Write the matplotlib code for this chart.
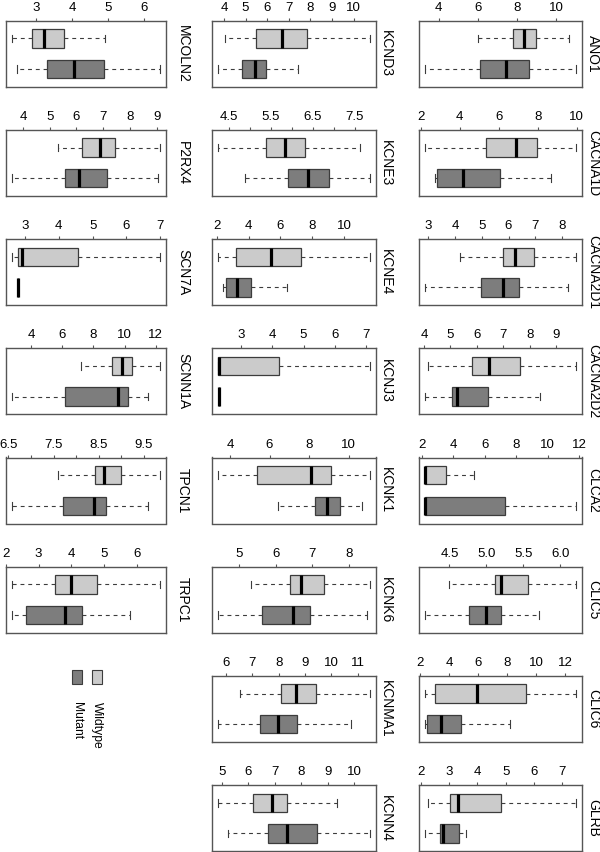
import matplotlib
matplotlib.use('Agg')
import matplotlib.pyplot as plt
from matplotlib.patches import Rectangle

plt.rcParams['font.family'] = ['Liberation Sans', 'DejaVu Sans']

# ---------------- data ----------------
genes = ['MCOLN2', 'P2RX4', 'SCN7A', 'SCNN1A', 'TPCN1', 'TRPC1',
         'KCND3', 'KCNE3', 'KCNE4', 'KCNJ3', 'KCNK1', 'KCNK6', 'KCNMA1', 'KCNN4',
         'ANO1', 'CACNA1D', 'CACNA2D1', 'CACNA2D2', 'CLCA2', 'CLIC5', 'CLIC6', 'GLRB']

# Wildtype five-number summaries (lower whisker, Q1, median, Q3, upper whisker)
wt_lo = [2.32, 5.30, 2.60, 7.19, 7.61, 2.18, 4.03, 4.245, 2.10, 2.28, 3.41, 5.33, 6.53, 4.86,
         6.00, 2.21, 4.19, 4.14, 2.19, 4.50, 2.32, 2.27]
wt_q1 = [2.89, 6.19, 2.80, 9.17, 8.42, 3.49, 5.47, 5.375, 3.21, 2.28, 5.38, 6.38, 8.09, 6.19,
         7.80, 5.35, 5.79, 5.80, 2.19, 5.12, 3.02, 3.02]
wt_med = [3.23, 6.87, 2.92, 9.86, 8.63, 4.00, 6.67, 5.845, 5.39, 2.30, 8.10, 6.70, 8.66, 6.88,
          8.37, 6.88, 6.25, 6.47, 2.19, 5.195, 5.90, 3.33]
wt_q3 = [3.76, 7.43, 4.56, 10.49, 9.01, 4.78, 7.86, 6.31, 7.30, 4.23, 9.09, 7.33, 9.43, 7.46,
         8.98, 7.97, 6.96, 7.61, 3.55, 5.565, 9.32, 4.85]
wt_hi = [4.91, 9.11, 6.99, 12.26, 9.86, 6.69, 10.74, 7.64, 11.61, 7.11, 11.07, 8.56, 11.46, 9.37,
         10.68, 9.95, 8.51, 9.73, 5.31, 6.21, 12.74, 7.47]

# Mutant five-number summaries
mut_lo = [2.48, 3.58, 2.79, 2.74, 6.57, 2.18, 3.74, 4.89, 2.42, 2.30, 6.43, 4.44, 5.71, 5.24,
          3.31, 2.70, 2.88, 4.04, 2.19, 4.17, 2.32, 2.15]
mut_q1 = [3.31, 5.56, 2.79, 6.18, 7.72, 2.62, 4.83, 5.92, 2.61, 2.30, 8.32, 5.64, 7.29, 6.74,
          6.10, 2.82, 4.98, 5.07, 2.19, 4.76, 2.46, 2.67]
mut_med = [4.06, 6.11, 2.79, 9.59, 8.39, 3.80, 5.44, 6.385, 3.26, 2.30, 8.92, 6.47, 7.96, 7.47,
           7.44, 4.14, 5.80, 5.26, 2.19, 5.00, 3.45, 2.79]
mut_q3 = [4.88, 7.13, 2.79, 10.20, 8.66, 4.33, 5.93, 6.89, 4.16, 2.30, 9.58, 6.94, 8.71, 8.61,
          8.64, 6.05, 6.38, 6.42, 7.27, 5.20, 4.84, 3.34]
mut_hi = [6.43, 9.04, 2.79, 11.48, 9.60, 5.77, 7.44, 7.86, 6.44, 2.30, 10.69, 8.49, 10.75, 10.59,
          11.00, 8.66, 8.24, 8.37, 11.79, 5.72, 8.17, 3.59]

tick_values = [
    [3, 4, 5, 6], [4, 5, 6, 7, 8, 9], [3, 4, 5, 6, 7], [4, 6, 8, 10, 12],
    [6.5, 7, 7.5, 8, 8.5, 9, 9.5], [2, 3, 4, 5, 6],
    [4, 5, 6, 7, 8, 9, 10], [4.5, 5, 5.5, 6, 6.5, 7, 7.5], [2, 4, 6, 8, 10], [3, 4, 5, 6, 7],
    [4, 6, 8, 10], [5, 6, 7, 8], [6, 7, 8, 9, 10, 11], [5, 6, 7, 8, 9, 10],
    [4, 6, 8, 10], [2, 4, 6, 8, 10], [3, 4, 5, 6, 7, 8], [4, 5, 6, 7, 8, 9],
    [2, 4, 6, 8, 10, 12], [4.5, 5.0, 5.5, 6.0], [2, 4, 6, 8, 10, 12], [2, 3, 4, 5, 6, 7]]
tick_labels = {
    'TPCN1': ['6.5', '', '7.5', '', '8.5', '', '9.5'],
    'KCNE3': ['4.5', '', '5.5', '', '6.5', '', '7.5'],
    'CLIC5': ['4.5', '5.0', '5.5', '6.0'],
}
group_names = ['Mutant', 'Wildtype']

# ---------------- style / layout ----------------
wt_color = '#cbcbcb'
mut_color = '#7d7d7d'
edge_color = '#3c3c3c'
frame_color = '#555555'

W, H = 600, 852
fig = plt.figure(figsize=(6, 8.52), dpi=100)
col_x = [5.7, 212.3, 419.0]
col_w = [160.0, 163.4, 162.7]
row_top0, row_pitch, row_h = 20.7, 109.2, 66.0
label_dx = [12.5, 7.5, 8.0]
layout = [(0, r) for r in range(6)] + [(1, r) for r in range(8)] + [(2, r) for r in range(8)]

for i, g in enumerate(genes):
    c, r = layout[i]
    top = row_top0 + r * row_pitch
    ax = fig.add_axes([col_x[c] / W, 1 - (top + row_h) / H, col_w[c] / W, row_h / H])
    stats = [
        dict(whislo=mut_lo[i], q1=mut_q1[i], med=mut_med[i], q3=mut_q3[i], whishi=mut_hi[i], fliers=[]),
        dict(whislo=wt_lo[i], q1=wt_q1[i], med=wt_med[i], q3=wt_q3[i], whishi=wt_hi[i], fliers=[]),
    ]
    res = ax.bxp(stats, positions=[1, 2], widths=0.6, orientation='horizontal',
                 patch_artist=True, showfliers=False, capwidths=0.25,
                 boxprops=dict(edgecolor=edge_color, linewidth=0.9),
                 whiskerprops=dict(color=edge_color, linewidth=0.8, linestyle=(0, (3.5, 3.5))),
                 capprops=dict(color=edge_color, linewidth=0.8),
                 medianprops=dict(color='black', linewidth=2.3, solid_capstyle='butt'))
    for patch, col in zip(res['boxes'], [mut_color, wt_color]):
        patch.set_facecolor(col)
    lo = min(wt_lo[i], mut_lo[i])
    hi = max(wt_hi[i], mut_hi[i])
    ext = 0.04 * (hi - lo)
    ax.set_xlim(lo - ext, hi + ext)
    ax.set_ylim(0.42, 2.58)
    ax.set_yticks([])
    ax.xaxis.tick_top()
    ax.set_xticks(tick_values[i])
    if g in tick_labels:
        ax.set_xticklabels(tick_labels[g])
    else:
        ax.set_xticklabels([('%g' % v) for v in tick_values[i]])
    ax.tick_params(axis='x', direction='out', length=2.5, width=0.8, pad=2.5,
                   labelsize=9.5, color=frame_color, labelcolor='black')
    for s in ax.spines.values():
        s.set_color(frame_color)
        s.set_linewidth(1.0)
    ax.annotate(g, xy=(1, 0.5), xycoords='axes fraction', xytext=(label_dx[c], 0),
                textcoords='offset points', rotation=270, ha='center', va='center',
                fontsize=10)

# legend (drawn in a hidden axes laid out in pixel units)
lax = fig.add_axes([0, 0, 200 / W, 192 / H])
lax.set_xlim(0, 200)
lax.set_ylim(852, 660)
lax.axis('off')
for x0, col, name in zip([72.3, 92.0], [mut_color, wt_color], group_names):
    lax.add_patch(Rectangle((x0, 670), 10, 14.3, facecolor=col, edgecolor=edge_color, linewidth=0.8))
    lax.text(x0 + 5, 702, name, rotation=270, ha='center', va='top', fontsize=8.7)

fig.savefig('out.png', dpi=100)
